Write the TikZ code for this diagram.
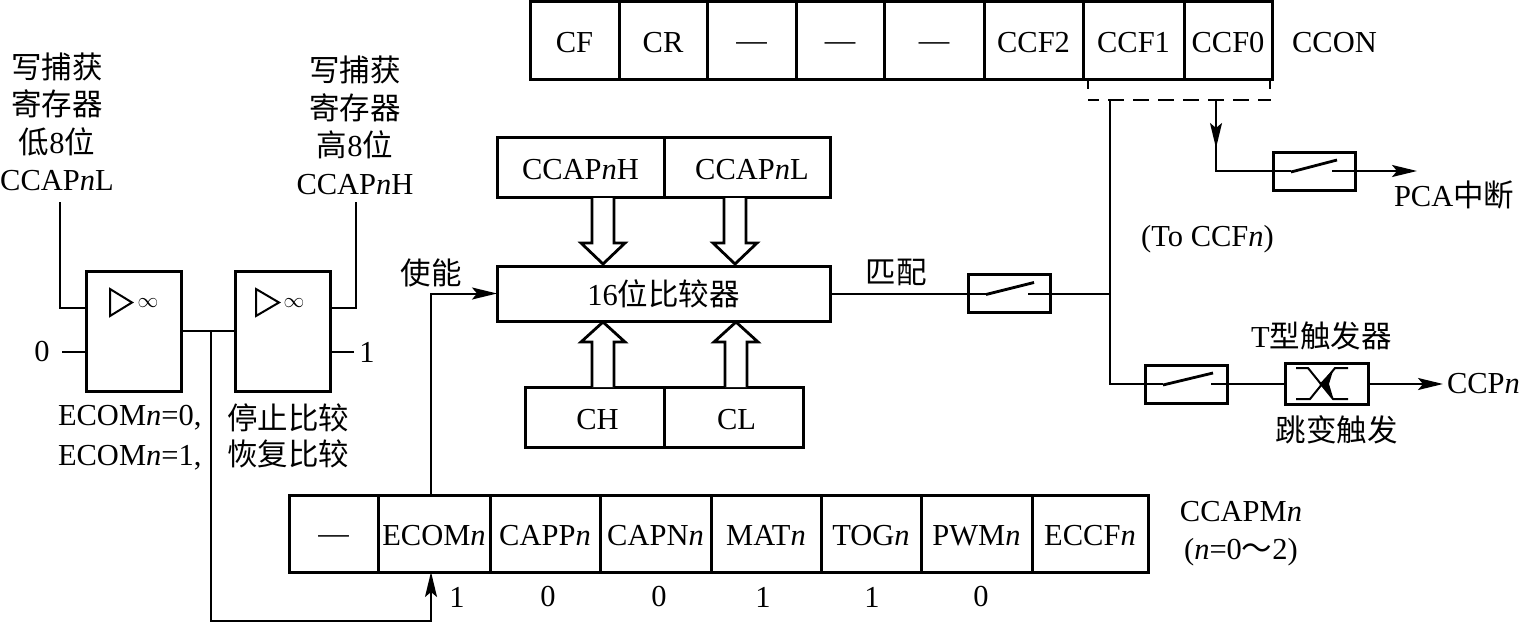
\documentclass[tikz,border=0pt]{standalone}
\usepackage{amsmath, amssymb}
\usepackage{fontspec}
\setmainfont{Liberation Serif}
\newfontfamily\cjkfont{Noto Sans CJK SC}
\newcommand{\cn}[1]{{\cjkfont #1}}
\newcommand{\bardash}{\raisebox{2pt}{—}}
\usetikzlibrary{arrows.meta}
\usetikzlibrary{calc}

\begin{document}
\begin{tikzpicture}[x=1pt, y=-1pt, font=\fontsize{30.5}{37.5}\selectfont,
        cell_style/.style={rectangle,draw=black,line width=3pt,inner sep=0pt,outer sep=0pt,text height=24pt,text depth=0pt},
        top_cell_style/.style={cell_style,minimum height=78pt},
        low_cell_style/.style={cell_style,minimum height=77pt},
        amp_style/.style={cell_style,minimum width=95pt,minimum height=120pt},
        switch_style/.style={cell_style,minimum width=82pt,minimum height=38pt},
        text_style/.style={inner sep=0pt,outer sep=0pt,align=center},
        wire_style/.style={draw=black,line width=2pt},
        edge_style/.style={draw=black,line width=2pt,-{Stealth[length=25pt,width=12pt,inset=5pt]}},
        bus_style/.style={draw=black,line width=2.8pt,fill=white},
        blade_style/.style={draw=black,line width=2.8pt}]

        \useasboundingbox (0,0) rectangle (1520,623);

        % CCON register
        \node [top_cell_style,minimum width=89pt](cf) at (574.5,41) {CF};
        \node [top_cell_style,minimum width=88pt](cr) at (663,41) {CR};
        \node [top_cell_style,minimum width=89pt](con5) at (751.5,41) {\bardash};
        \node [top_cell_style,minimum width=88pt](con4) at (840,41) {\bardash};
        \node [top_cell_style,minimum width=100pt](con3) at (934,41) {\bardash};
        \node [top_cell_style,minimum width=99pt](ccf2) at (1033.5,41) {CCF2};
        \node [top_cell_style,minimum width=101pt](ccf1) at (1133.5,41) {CCF1};
        \node [top_cell_style,minimum width=88pt](ccf0) at (1228,41) {CCF0};
        \node [text_style](ccon) at (1334.5,43) {CCON};

        % CCAPMn register
        \node [low_cell_style,minimum width=89pt](pm7) at (333.5,533.5) {\bardash};
        \node [low_cell_style,minimum width=112pt](ecom) at (434,533.5) {ECOM\textit{n}};
        \node [low_cell_style,minimum width=110pt](capp) at (545,533.5) {CAPP\textit{n}};
        \node [low_cell_style,minimum width=111pt](capn) at (655.5,533.5) {CAPN\textit{n}};
        \node [low_cell_style,minimum width=110pt](mat) at (766,533.5) {MAT\textit{n}};
        \node [low_cell_style,minimum width=100pt](tog) at (871,533.5) {TOG\textit{n}};
        \node [low_cell_style,minimum width=111pt](pwm) at (976.5,533.5) {PWM\textit{n}};
        \node [low_cell_style,minimum width=116pt](eccf) at (1090,533.5) {ECCF\textit{n}};
        \node [text_style](ccapm) at (1241,533.5) {CCAPM\textit{n}\\(\textit{n}=0\cn{～}2)};

        \node [text_style](bit6) at (457,597) {1};
        \node [text_style](bit5) at (548,597) {0};
        \node [text_style](bit4) at (659,597) {0};
        \node [text_style](bit3) at (763,597) {1};
        \node [text_style](bit2) at (872,597) {1};
        \node [text_style](bit1) at (981,597) {0};

        % comparator and its registers
        \node [cell_style,minimum width=167pt,minimum height=60pt](ccaph) at (580.5,167.5) {CCAP\textit{n}H};
        \node [cell_style,minimum width=166pt,minimum height=60pt](ccapl) at (747,167.5) {\hspace*{10pt}CCAP\textit{n}L};
        \node [cell_style,minimum width=333pt,minimum height=55pt](cmp) at (663.5,293.5) {16\cn{位比较器}};
        \node [cell_style,minimum width=139pt,minimum height=60pt](ch) at (594.5,417) {\hspace*{6pt}CH};
        \node [cell_style,minimum width=139pt,minimum height=60pt](cl) at (733.5,417) {\hspace*{6pt}CL};

        \coordinate (bus1) at (603,198);
        \coordinate (bus2) at (735,198);
        \coordinate (bus3) at (603,387);
        \coordinate (bus4) at (736,387);
        \draw [bus_style] (bus1) ++(-11,0) -- ++(0,45) -- ++(-11,0) -- ++(22,21) -- ++(22,-21) -- ++(-11,0) -- ++(0,-45);
        \draw [bus_style] (bus2) ++(-11,0) -- ++(0,45) -- ++(-11,0) -- ++(22,21) -- ++(22,-21) -- ++(-11,0) -- ++(0,-45);
        \draw [bus_style] (bus3) ++(-11,0) -- ++(0,-45) -- ++(-11,0) -- ++(22,-20) -- ++(22,20) -- ++(-11,0) -- ++(0,45);
        \draw [bus_style] (bus4) ++(-11,0) -- ++(0,-45) -- ++(-11,0) -- ++(22,-20) -- ++(22,20) -- ++(-11,0) -- ++(0,45);

        % the two amplifiers
        \node [amp_style](amp1) at (133.5,331) {};
        \node [amp_style](amp2) at (282.5,331) {};
        \draw [wire_style] ($(amp1.north west)+(24,18)$) -- ++(0,27) -- ++(22,-13.5) -- cycle;
        \draw [wire_style] ($(amp2.north west)+(21,18)$) -- ++(0,27) -- ++(23,-13.5) -- cycle;
        \node [text_style](inf1) at (148,303) {\fontsize{22}{22}\selectfont$\infty$};
        \node [text_style](inf2) at (294,303) {\fontsize{22}{22}\selectfont$\infty$};

        \node [text_style](writel) at (57,122) {\cn{写捕获}\\\cn{寄存器}\\\cn{低}8\cn{位}\\CCAP\textit{n}L};
        \node [text_style](writeh) at (355,125.5) {\cn{写捕获}\\\cn{寄存器}\\\cn{高}8\cn{位}\\CCAP\textit{n}H};
        \node [text_style](zero) at (42,352) {0};
        \node [text_style](one) at (367,352) {1};
        \node [text_style,anchor=west](ecom0) at (58,418) {ECOM\textit{n}=0,};
        \node [text_style,anchor=west](ecom1) at (58,458) {ECOM\textit{n}=1,};
        \node [text_style](stop) at (288,418) {\cn{停止比较}};
        \node [text_style](resume) at (288,454) {\cn{恢复比较}};
        \node [text_style](enable) at (431,273) {\cn{使能}};

        \coordinate (wl_top) at (60,202);
        \coordinate (wl_in) at (86,308);
        \coordinate (wh_top) at (356,202);
        \coordinate (wh_in) at (330,308);
        \coordinate (zero_in) at (62,352);
        \coordinate (zero_pin) at (86,352);
        \coordinate (one_in) at (354,352);
        \coordinate (one_pin) at (330,352);
        \coordinate (amp_tap) at (211,331);
        \coordinate (ecom_turn) at (431,621);
        \coordinate (ecom_in) at (431,572);
        \coordinate (ecom_out) at (431,495);

        \draw [wire_style] (wl_top) |- (wl_in);
        \draw [wire_style] (wh_top) |- (wh_in);
        \draw [wire_style] (zero_in) -- (zero_pin);
        \draw [wire_style] (one_in) -- (one_pin);
        \draw [wire_style,line width=2.6pt] (amp1.east) -- (amp2.west);
        \draw [edge_style] (amp_tap) |- (ecom_turn) -- (ecom_in);
        \draw [edge_style] (ecom_out) |- (cmp.west);

        % match output and switches
        \node [text_style](match) at (896,272) {\cn{匹配}};
        \node [switch_style](sw1) at (1009,293.5) {};
        \node [switch_style](sw2) at (1186,384) {};
        \node [switch_style](sw3) at (1314,171) {};
        \node [cell_style,minimum width=83pt,minimum height=41pt](tff) at (1326.5,384) {};
        \node [text_style](tcn) at (1321.5,336) {T\cn{型触发器}};
        \node [text_style](jump) at (1336.5,430) {\cn{跳变触发}};
        \node [text_style,anchor=west](ccp) at (1447,384) {CCP\textit{n}};
        \node [text_style,anchor=west](pca) at (1394,195) {PCA\cn{中断}};
        \node [text_style](toccf) at (1207.5,239) {(To CCF\textit{n})};

        \draw [blade_style] ($(sw1.west)+(18,1)$) -- ++(48,-12);
        \draw [blade_style] ($(sw2.west)+(18,1)$) -- ++(50,-12);
        \draw [blade_style] ($(sw3.west)+(18,1)$) -- ++(46,-12);
        \draw [wire_style] (sw1.west) -- ++(18,0);
        \draw [wire_style] (sw2.west) -- ++(18,0);
        \draw [wire_style] (sw3.west) -- ++(18,0);
        \draw [wire_style] (sw1.east) -- ++(-22,0);
        \draw [wire_style] (sw2.east) -- ++(-16,0);
        \draw [wire_style] (sw3.east) -- ++(-23,0);

        % flip-flop symbol
        \coordinate (tff_a) at (1296,368);
        \coordinate (tff_b) at (1348,368);
        \coordinate (tff_c) at (1296,399);
        \coordinate (tff_d) at (1348,399);
        \draw [wire_style] (tff_a) -- ++(12,0) -- ++(25,31) -- (tff_d);
        \draw [wire_style] (tff_b) -- ++(-13,0) -- ++(-25,31) -- (tff_c);
        \fill [black] ($(tff.center)+(-7,0)$) -- ++(14,-15) -- ++(-6,20) -- cycle;
        \fill [black] ($(tff.center)+(-7,0)$) -- ++(14,15) -- ++(-6,-20) -- cycle;

        \coordinate (ccf_n) at (1110,100);
        \coordinate (ccf_tap) at (1110,293.5);
        \coordinate (sw_turn) at (1110,384);
        \coordinate (pca_tap) at (1216,100);
        \coordinate (pca_mid) at (1216,148);
        \coordinate (pca_out) at (1417,171);
        \coordinate (ccp_out) at (1443,384);
        \coordinate (dash_l) at (1088,100);
        \coordinate (dash_r) at (1271,100);
        \coordinate (tick_l) at (1088,80);
        \coordinate (tick_r) at (1270,80);

        \draw [wire_style] (cmp.east) -- (sw1.west);
        \draw [wire_style] (sw1.east) -- (ccf_tap);
        \draw [wire_style] (ccf_n) -- (sw_turn) -- (sw2.west);
        \draw [wire_style] (sw2.east) -- (tff.west);
        \draw [edge_style] (tff.east) -- (ccp_out);
        \draw [edge_style] (pca_tap) -- (pca_mid);
        \draw [wire_style] (pca_tap) |- (sw3.west);
        \draw [edge_style] (sw3.east) -- (pca_out);
        \draw [wire_style,dash pattern=on 16pt off 9pt,dash phase=5pt] (dash_l) -- (dash_r);
        \draw [wire_style] (tick_l) -- ++(0,9);
        \draw [wire_style] (tick_r) -- ++(0,9);
\end{tikzpicture}
\end{document}
